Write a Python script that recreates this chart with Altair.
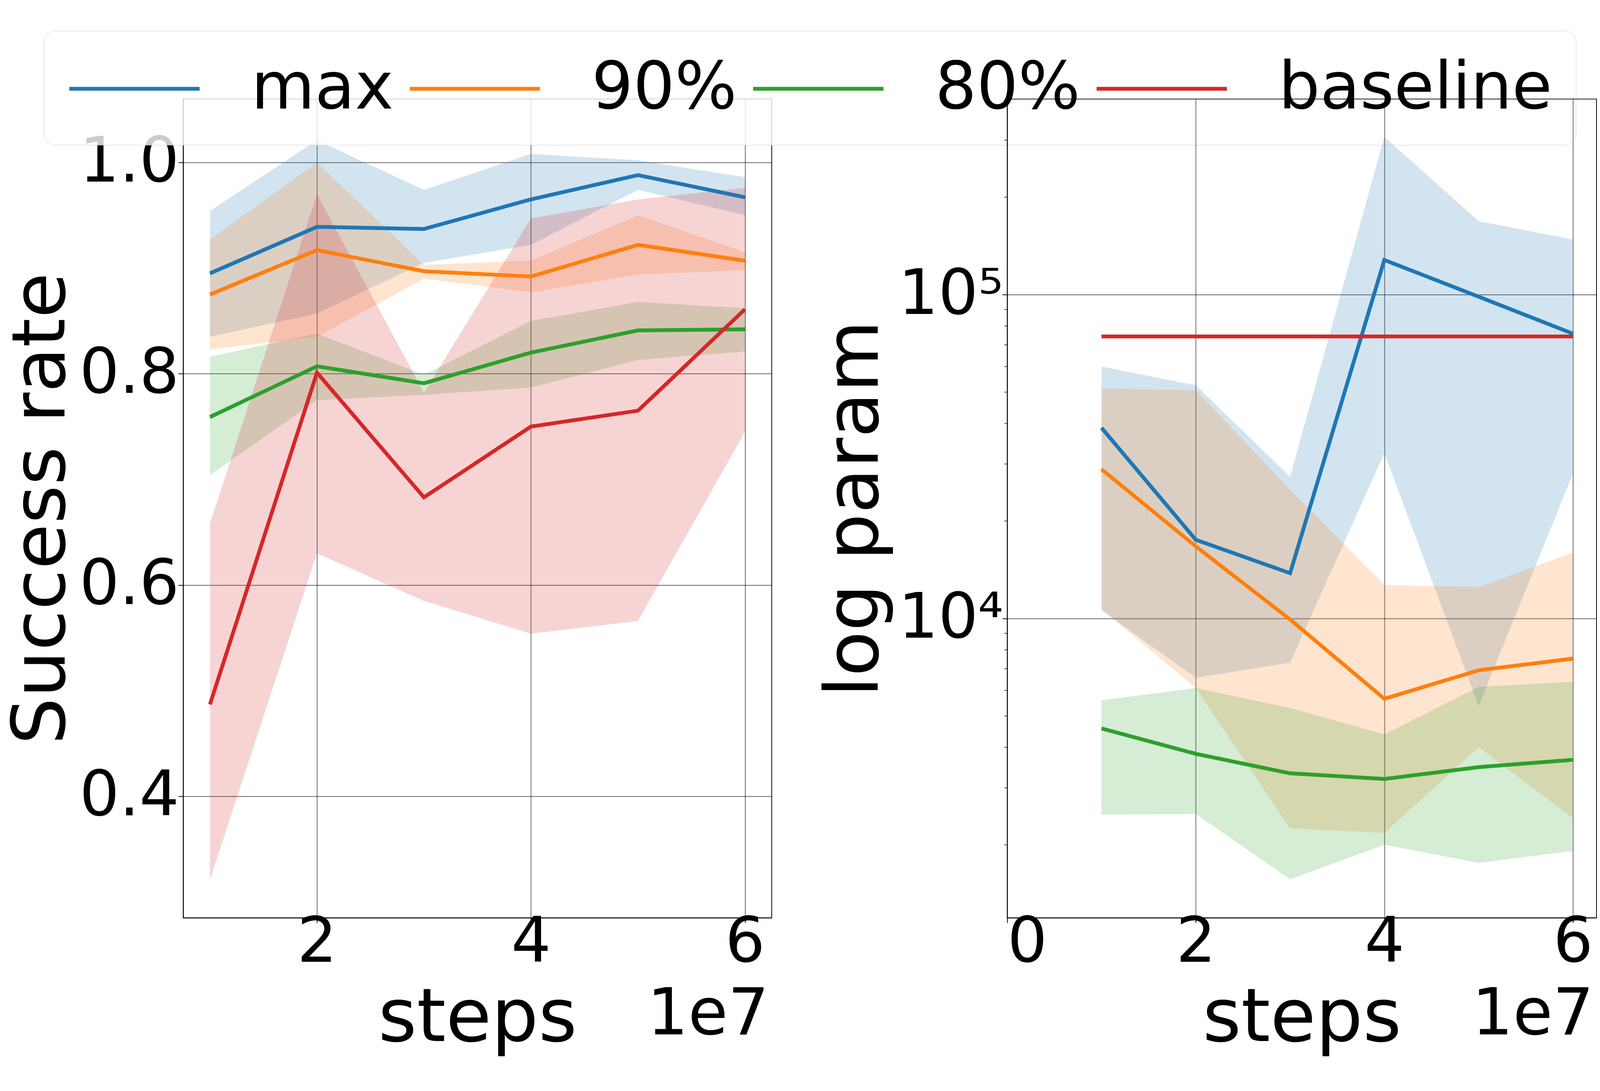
import altair as alt
import pandas as pd

FONT = "DejaVu Sans"
SERIES = ["max", "90%", "80%", "baseline"]
COLORS = ["#1f77b4", "#ff7f0e", "#2ca02c", "#d62728"]
STEPS = [1, 2, 3, 4, 5, 6]

# ---- left panel: success rate ----
SR_MAX = [0.895, 0.939, 0.937, 0.965, 0.988, 0.967]
SR_MAX_LO = [0.835, 0.857, 0.905, 0.922, 0.974, 0.950]
SR_MAX_HI = [0.954, 1.021, 0.974, 1.008, 1.002, 0.986]
SR_90 = [0.875, 0.917, 0.897, 0.892, 0.922, 0.907]
SR_90_LO = [0.823, 0.835, 0.890, 0.877, 0.894, 0.898]
SR_90_HI = [0.927, 1.000, 0.903, 0.907, 0.950, 0.915]
SR_80 = [0.759, 0.807, 0.791, 0.820, 0.841, 0.842]
SR_80_LO = [0.704, 0.775, 0.780, 0.787, 0.813, 0.821]
SR_80_HI = [0.816, 0.838, 0.799, 0.850, 0.868, 0.862]
SR_BASE = [0.487, 0.801, 0.683, 0.750, 0.765, 0.861]
SR_BASE_LO = [0.321, 0.630, 0.585, 0.554, 0.566, 0.745]
SR_BASE_HI = [0.658, 0.970, 0.782, 0.947, 0.965, 0.976]

# ---- right panel: log param ----
LP_MAX = [38800, 17500, 13800, 128000, 98600, 75800]
LP_MAX_LO = [10600, 6560, 7300, 32400, 5370, 28000]
LP_MAX_HI = [60000, 52500, 27400, 307000, 168700, 148000]
LP_90 = [28900, 16700, 9930, 5650, 6920, 7520]
LP_90_LO = [10700, 6100, 2250, 2175, 4010, 2420]
LP_90_HI = [51300, 50700, 25000, 12700, 12500, 16000]
LP_80 = [4575, 3820, 3325, 3195, 3475, 3660]
LP_80_LO = [2480, 2490, 1565, 2000, 1760, 1915]
LP_80_HI = [5590, 6100, 5290, 4385, 6150, 6370]
LP_BASE = [74300, 74300, 74300, 74300, 74300, 74300]

SR_Y_TICKS = [0.4, 0.6, 0.8, 1.0]
SR_X_TICKS = [2, 4, 6]
LP_X_TICKS = [0, 2, 4, 6]
LP_Y_TICKS = [10000, 100000]
LP_Y_MINOR = [2000, 3000, 4000, 5000, 6000, 7000, 8000, 9000,
              20000, 30000, 40000, 50000, 60000, 70000, 80000, 90000,
              200000, 300000, 400000]
OFFSET_TEXT = ["1e7"]


def line_frame(names, means):
    rows = []
    for n, m in zip(names, means):
        for s, v in zip(STEPS, m):
            rows.append({"series": n, "steps": s, "mean": v})
    return pd.DataFrame(rows)


def band_frame(names, los, his):
    rows = []
    for n, lo, hi in zip(names, los, his):
        for s, a, b in zip(STEPS, lo, hi):
            rows.append({"series": n, "steps": s, "lo": a, "hi": b})
    return pd.DataFrame(rows)


sr_lines = line_frame(SERIES, [SR_MAX, SR_90, SR_80, SR_BASE])
sr_bands = band_frame(SERIES, [SR_MAX_LO, SR_90_LO, SR_80_LO, SR_BASE_LO],
                      [SR_MAX_HI, SR_90_HI, SR_80_HI, SR_BASE_HI])
lp_lines = line_frame(SERIES, [LP_MAX, LP_90, LP_80, LP_BASE])
lp_bands = band_frame(SERIES[:3], [LP_MAX_LO, LP_90_LO, LP_80_LO],
                      [LP_MAX_HI, LP_90_HI, LP_80_HI])

color_scale = alt.Scale(domain=SERIES, range=COLORS)

# long legend line: custom path that starts at the symbol's left edge
# and runs on to the right, so the legend row stays only one label tall
legend = alt.Legend(
    title=None, orient="none", legendX=-367, legendY=-180,
    direction="horizontal", columns=4, values=SERIES,
    symbolType="M-1,0L3,0", symbolSize=29412, symbolStrokeWidth=10,
    labelFontSize=172, labelFont=FONT, labelColor="black",
    labelOffset=302, columnPadding=22, padding=62, labelLimit=2000,
    fillColor="rgba(255,255,255,0.8)", strokeColor="#d0d0d0",
    cornerRadius=30,
)

W_L, W_R, H = 1549, 1551, 2156


def build_panel(lines_df, bands_df, xscale, xaxis, yscale, yaxis, width, extra, leg):
    x = alt.X("steps:Q", scale=xscale, axis=xaxis)
    bands = alt.Chart(bands_df).mark_area(opacity=0.2, clip=True).encode(
        x=x,
        y=alt.Y("lo:Q", scale=yscale, axis=yaxis),
        y2="hi:Q",
        fill=alt.Fill("series:N", scale=color_scale, legend=None),
    )
    layers = [bands]
    for n in SERIES:
        layers.append(
            alt.Chart(lines_df).transform_filter(alt.datum.series == n)
            .mark_line(strokeWidth=10, clip=True)
            .encode(
                x=x,
                y=alt.Y("mean:Q", scale=yscale, axis=yaxis),
                color=alt.Color("series:N", scale=color_scale, legend=leg),
            )
        )
    layers += extra
    off = alt.Chart(pd.DataFrame({"t": OFFSET_TEXT})).mark_text(
        align="right", baseline="alphabetic", fontSize=170, font=FONT, color="black"
    ).encode(text="t:N", x=alt.value(width - 7), y=alt.value(2463))
    layers.append(off)
    return alt.layer(*layers).properties(width=width, height=H)


# left panel
xs_L = alt.Scale(domain=[0.75, 6.25], nice=False, zero=False)
xa_L = alt.Axis(values=SR_X_TICKS, format="d", title="steps")
ys_L = alt.Scale(domain=[0.285, 1.06], nice=False, zero=False)
ya_L = alt.Axis(values=SR_Y_TICKS, format=".1f", title="Success rate",
                titlePadding=72)
left = build_panel(sr_lines, sr_bands, xs_L, xa_L, ys_L, ya_L, W_L, [], legend)

# right panel
xs_R = alt.Scale(domain=[0, 6.25], nice=False, zero=False)
xa_R = alt.Axis(values=LP_X_TICKS, format="d", title="steps")
ys_R = alt.Scale(type="log", domain=[1190, 402000], nice=False)
ya_R = alt.Axis(values=LP_Y_TICKS, title="log param",
                labelExpr="datum.value == 10000 ? '10⁴' : '10⁵'", titlePadding=100)
minor = alt.Chart(pd.DataFrame({"v": LP_Y_MINOR})).mark_tick(
    orient="horizontal", size=8, thickness=2, color="black", clip=False
).encode(y=alt.Y("v:Q", scale=ys_R, axis=ya_R), x=alt.value(-4))
right = build_panel(lp_lines, lp_bands, xs_R, xa_R, ys_R, ya_R, W_R, [minor], None)

chart = alt.hconcat(left, right, spacing=620, bounds="flush").resolve_scale(
    color="shared", fill="shared"
).resolve_legend(
    color="independent"
).properties(
    padding={"left": 4, "top": 32, "right": 0, "bottom": 0}
).configure_view(
    stroke="black", strokeWidth=2
).configure_axis(
    labelFont=FONT, titleFont=FONT, labelFontSize=165, titleFontSize=195,
    titleFontWeight="normal", labelColor="black", titleColor="black",
    gridColor="black", gridOpacity=0.6, gridWidth=2, labelLimit=1000,
    tickColor="black", tickSize=13, tickWidth=2,
    domainColor="black", domainWidth=2,
).configure_axisX(
    titlePadding=22, labelPadding=-28
).configure_axisY(
    labelPadding=-2
)

chart.save("out.html", embed_options={"renderer": "svg", "actions": False})
